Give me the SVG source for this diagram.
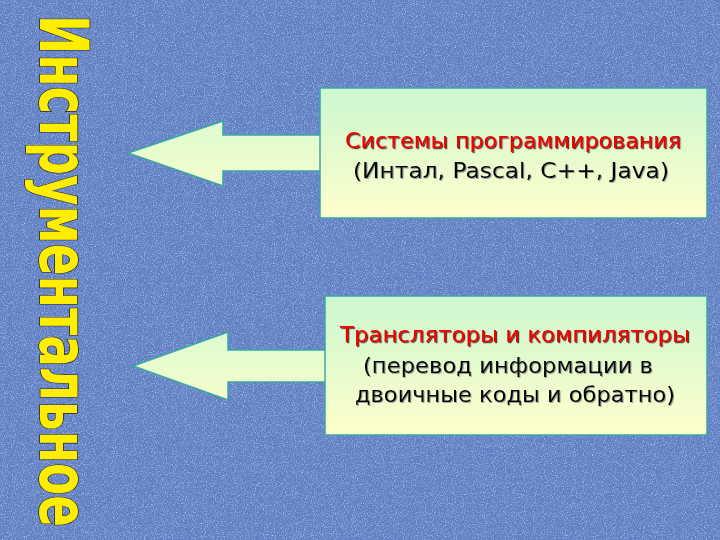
<svg xmlns="http://www.w3.org/2000/svg" width="720" height="540" viewBox="0 0 720 540">
  <defs>
    <filter id="noise" x="0" y="0" width="100%" height="100%">
      <feTurbulence type="fractalNoise" baseFrequency="0.9" numOctaves="2" seed="3" result="n"/>
      <feColorMatrix in="n" type="matrix" values="0 0 0 0 0.6  0 0 0 0 0.72  0 0 0 0 1  2 0 0 0 -0.95" result="c"/>
      <feComposite in="c" in2="SourceGraphic" operator="in"/>
    </filter>
    <filter id="noiseDark" x="0" y="0" width="100%" height="100%">
      <feTurbulence type="fractalNoise" baseFrequency="0.8" numOctaves="2" seed="11" result="n"/>
      <feColorMatrix in="n" type="matrix" values="0 0 0 0 0.15  0 0 0 0 0.25  0 0 0 0 0.55  -2 0 0 0 1.05" result="c"/>
      <feComposite in="c" in2="SourceGraphic" operator="in"/>
    </filter>
    <linearGradient id="boxGrad" x1="0" y1="0" x2="0" y2="1">
      <stop offset="0" stop-color="#ccf7d0"/>
      <stop offset="1" stop-color="#ffffcc"/>
    </linearGradient>
    <linearGradient id="arrowGrad" x1="0" y1="0" x2="0" y2="1">
      <stop offset="0" stop-color="#dcfcd0"/>
      <stop offset="1" stop-color="#f6fccc"/>
    </linearGradient>
    <filter id="shadow" x="-5%" y="-20%" width="110%" height="140%">
      <feDropShadow dx="1.2" dy="1.2" stdDeviation="0.4" flood-color="#400000" flood-opacity="0.8"/>
    </filter>
    <filter id="shadowDark" x="-5%" y="-20%" width="110%" height="140%">
      <feDropShadow dx="1" dy="1" stdDeviation="0.5" flood-color="#777777" flood-opacity="0.7"/>
    </filter>
  </defs>
  <style>
    .box { fill: url(#boxGrad); stroke: #3aa6a6; stroke-width: 1.5; }
    .arrow { fill: url(#arrowGrad); stroke: #3aa6a6; stroke-width: 1.5; stroke-linejoin: miter; }
    .title { font-family: "Comic Sans MS", "DejaVu Sans", "Noto Sans", sans-serif; font-size: 21px; fill: #ee0000; text-anchor: middle; filter: url(#shadow); }
    .sub { font-family: "Comic Sans MS", "DejaVu Sans", "Noto Sans", sans-serif; font-size: 21px; fill: #000000; text-anchor: middle; filter: url(#shadowDark); }
    .side { font-family: "DejaVu Sans", "Noto Sans", sans-serif; font-weight: bold; font-size: 68px; fill: #ffee00; stroke: #222222; stroke-width: 1.5; paint-order: stroke; }
  </style>

  <rect id="background" x="0" y="0" width="720" height="540" fill="#5f7ec2"/>
  <rect x="0" y="0" width="720" height="540" fill="#000" filter="url(#noise)"/>
  <rect x="0" y="0" width="720" height="540" fill="#000" filter="url(#noiseDark)"/>

  <g id="side-title">
    <text class="side" transform="translate(40,15) rotate(90)" x="0" y="0" textLength="512" lengthAdjust="spacingAndGlyphs">Инструментальное</text>
  </g>

  <g id="connectors">
    <path class="arrow" d="M321,135 L223,135 L223,121 L128,153 L223,186 L223,171 L321,171"/>
    <path class="arrow" d="M326,350 L228,350 L228,332 L133,366 L228,400 L228,382 L326,382"/>
  </g>

  <g id="node-systems">
    <rect class="box" x="320" y="88" width="387" height="130"/>
    <text class="title" x="513" y="148" textLength="336" lengthAdjust="spacingAndGlyphs">Системы программирования</text>
    <text class="sub" x="511" y="178" textLength="316" lengthAdjust="spacingAndGlyphs">(Интал, Pascal, C++, Java)</text>
  </g>

  <g id="node-translators">
    <rect class="box" x="325" y="296" width="382" height="139"/>
    <text class="title" x="515" y="342" textLength="350" lengthAdjust="spacingAndGlyphs">Трансляторы и компиляторы</text>
    <text class="sub" x="508" y="373" textLength="290" lengthAdjust="spacingAndGlyphs">(перевод информации в</text>
    <text class="sub" x="515" y="402" textLength="320" lengthAdjust="spacingAndGlyphs">двоичные коды и обратно)</text>
  </g>
</svg>
